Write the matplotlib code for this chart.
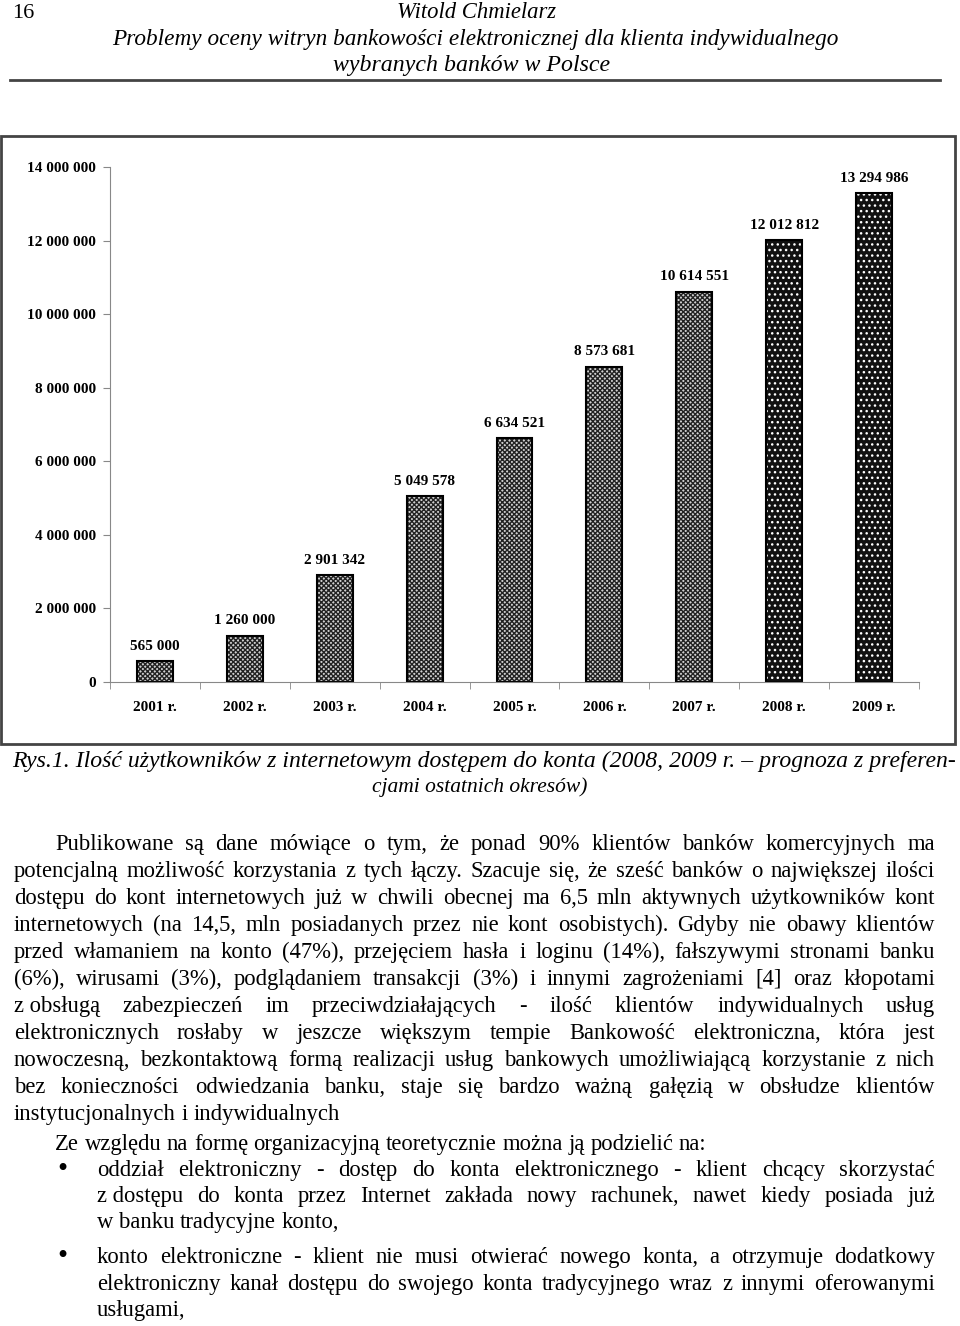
import numpy as np
import matplotlib as mpl
import matplotlib.pyplot as plt
from matplotlib.patches import Rectangle

# chart data
years = ['2001 r.', '2002 r.', '2003 r.', '2004 r.', '2005 r.',
         '2006 r.', '2007 r.', '2008 r.', '2009 r.']
users = [565000, 1260000, 2901342, 5049578, 6634521,
         8573681, 10614551, 12012812, 13294986]
forecast = [False, False, False, False, False, False, False, True, True]
y_ticks = [0, 2000000, 4000000, 6000000, 8000000, 10000000, 12000000, 14000000]

# page text
page_no = '16'
header = ['Witold Chmielarz',
          'Problemy oceny witryn bankowości elektronicznej dla klienta indywidualnego',
          'wybranych banków w Polsce']
caption = ['Rys.1. Ilość użytkowników z internetowym dostępem do konta (2008, 2009 r. – prognoza z preferen-',
           'cjami ostatnich okresów)']
body = [
    'Publikowane są dane mówiące o tym, że ponad 90% klientów banków komercyjnych ma',
    'potencjalną możliwość korzystania z tych łączy. Szacuje się, że sześć banków o największej ilości',
    'dostępu do kont internetowych już w chwili obecnej ma 6,5 mln aktywnych użytkowników kont',
    'internetowych (na 14,5, mln posiadanych przez nie kont osobistych). Gdyby nie obawy klientów',
    'przed włamaniem na konto (47%), przejęciem hasła i loginu (14%), fałszywymi stronami banku',
    '(6%), wirusami (3%), podglądaniem transakcji (3%) i innymi zagrożeniami [4] oraz kłopotami',
    'z\u00a0obsługą zabezpieczeń im przeciwdziałających - ilość klientów indywidualnych usług',
    'elektronicznych rosłaby w jeszcze większym tempie Bankowość elektroniczna, która jest',
    'nowoczesną, bezkontaktową formą realizacji usług bankowych umożliwiającą korzystanie z nich',
    'bez konieczności odwiedzania banku, staje się bardzo ważną gałęzią w obsłudze klientów',
    'instytucjonalnych i indywidualnych',
]
intro = 'Ze względu na formę organizacyjną teoretycznie można ją podzielić na:'
bullets = [
    ['oddział elektroniczny - dostęp do konta elektronicznego - klient chcący skorzystać',
     'z\u00a0dostępu do konta przez Internet zakłada nowy rachunek, nawet kiedy posiada już',
     'w\u00a0banku tradycyjne konto,'],
    ['konto elektroniczne - klient nie musi otwierać nowego konta, a otrzymuje dodatkowy',
     'elektroniczny kanał dostępu do swojego konta tradycyjnego wraz z innymi oferowanymi',
     'usługami,'],
]

SERIF = 'Liberation Serif'
mpl.rcParams['font.family'] = SERIF
mpl.rcParams['hatch.linewidth'] = 1.0

W, H = 960, 1326
fig = plt.figure(figsize=(W / 100, H / 100), dpi=100)

# page overlay in pixel coordinates
page = fig.add_axes([0, 0, 1, 1])
page.set_xlim(0, W)
page.set_ylim(H, 0)
page.axis('off')
page.set_zorder(0)
renderer = fig.canvas.get_renderer()


def width_of(t):
    return t.get_window_extent(renderer).width


def fit_text(s, x0, x1, y, size, **kw):
    t = page.text((x0 + x1) / 2, y, s, fontsize=size, ha='center', va='baseline', **kw)
    t.set_fontsize(size * (x1 - x0) / width_of(t))
    return t


def set_line(s, x0, x1, y, size, justify=True):
    # y is the baseline; words are spread to fill x0..x1 when justified
    words = s.split(' ')
    texts = [page.text(x0, y, w, fontsize=size, ha='left', va='baseline') for w in words]
    widths = [width_of(t) for t in texts]
    probe = page.text(0, 0, 'a a', fontsize=size)
    probe2 = page.text(0, 0, 'aa', fontsize=size)
    space = width_of(probe) - width_of(probe2)
    probe.remove()
    probe2.remove()
    if justify and len(words) > 1:
        gap = (x1 - x0 - sum(widths)) / (len(words) - 1)
    else:
        gap = space
    x = x0
    for t, w in zip(texts, widths):
        t.set_x(x)
        x += w + gap


# header
page.text(12, 18, page_no, fontsize=16, ha='left', va='baseline')
fit_text(header[0], 397, 556, 18, 16, style='italic')
fit_text(header[1], 113, 838, 45, 16, style='italic')
fit_text(header[2], 333, 610, 71, 16, style='italic')
page.plot([10, 940], [80, 80], color='#444444', lw=2)

# chart frame
page.add_patch(Rectangle((1, 136), 954, 608, fill=False, edgecolor='#444444', lw=2))

# caption
fit_text(caption[0], 12, 955, 767, 16, style='italic')
fit_text(caption[1], 372, 588, 792, 16, style='italic')

# body text
size = 16.3
for i, line in enumerate(body):
    x0 = 55 if i == 0 else 14
    set_line(line, x0, 935, 850 + 27 * i, size, justify=(i < len(body) - 1))
set_line(intro, 55, 935, 1150, size, justify=False)
rows = [[1176, 1202, 1228], [1263, 1290, 1316]]
for b, ys in zip(bullets, rows):
    page.text(62, ys[0] - 6, '•', fontsize=21, ha='center', va='center')
    for j, (line, y) in enumerate(zip(b, ys)):
        set_line(line, 97, 935, y, size, justify=(j < len(b) - 1))

# the bar chart
ax = fig.add_axes([110 / W, 1 - 682 / H, 809 / W, (682 - 167) / H])
ax.set_zorder(1)
ax.patch.set_alpha(0)
x = np.arange(len(years))
for xi, v, fc in zip(x, users, forecast):
    if fc:
        ax.bar(xi, v, width=0.4, color='#111111', edgecolor='white', hatch='...', lw=0)
    else:
        ax.bar(xi, v, width=0.4, color='#d0d0d0', edgecolor='#222222', hatch='xxxxxxx', lw=0)
bars = ax.bar(x, users, width=0.4, fill=False, edgecolor='black', lw=1.5)
for xi, v in zip(x, users):
    ax.annotate(f'{v:,}'.replace(',', ' '), (xi, v), xytext=(0, 6),
                textcoords='offset points', ha='center', va='bottom',
                fontsize=11, fontweight='bold')

ax.set_xlim(-0.5, len(years) - 0.5)
ax.set_ylim(0, 14000000)
ax.set_yticks(y_ticks)
ax.set_yticklabels([f'{int(t):,}'.replace(',', ' ') for t in y_ticks],
                   fontsize=11, fontweight='bold')
ax.set_xticks(x)
ax.set_xticklabels(years, fontsize=11, fontweight='bold')
ax.set_xticks(np.arange(-0.5, len(years)), minor=True)
ax.tick_params(axis='x', which='major', length=0, pad=14)
ax.tick_params(axis='x', which='minor', length=5, color='#888888')
ax.tick_params(axis='y', length=5, color='#888888', pad=5)
for s in ['top', 'right']:
    ax.spines[s].set_visible(False)
for s in ['left', 'bottom']:
    ax.spines[s].set_color('#888888')

fig.savefig('out.png', dpi=100)
